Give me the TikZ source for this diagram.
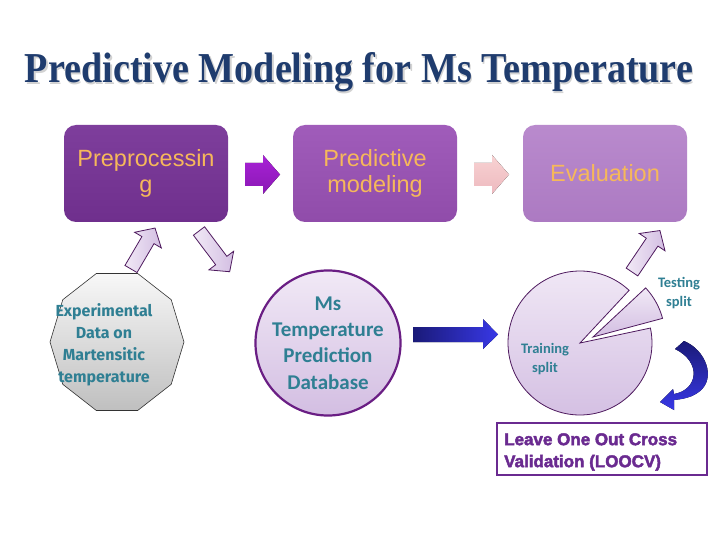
\documentclass[tikz,border=0pt]{standalone}
\usepackage{fontspec}
\usepackage{graphicx}
\setmainfont{Liberation Sans}
\newfontfamily\titlefont{Liberation Serif}
\newfontfamily\calfont{Carlito}
\newfontfamily\expfont{Fira Sans}
\newfontfamily\blackfont{Liberation Sans Bold}[FakeBold=2.5]
\usetikzlibrary{shapes.geometric}
\definecolor{titleblue}{HTML}{1F3C6E}
\definecolor{boxA}{HTML}{7E3E9C}
\definecolor{boxAd}{HTML}{6F2F8D}
\definecolor{boxB}{HTML}{A05CBA}
\definecolor{boxBd}{HTML}{904CAA}
\definecolor{boxC}{HTML}{B98ACD}
\definecolor{boxCd}{HTML}{AC7AC2}
\definecolor{orangetxt}{HTML}{F6B85A}
\definecolor{magA}{HTML}{A822D6}
\definecolor{magB}{HTML}{8A18B4}
\definecolor{pinkA}{HTML}{F8D2D2}
\definecolor{pinkB}{HTML}{EDB9BF}
\definecolor{lavL}{HTML}{F1E9F6}
\definecolor{lavD}{HTML}{D3BEE2}
\definecolor{purpline}{HTML}{4E1A5E}
\definecolor{dbborder}{HTML}{6A1E84}
\definecolor{tealtxt}{HTML}{2F7F93}
\definecolor{blueD}{HTML}{1A1A78}
\definecolor{blueB}{HTML}{3838E6}
\definecolor{loocv}{HTML}{6A2A90}
\newcommand\lavarrow[4]{%
  \begin{scope}[shift={(#1,#2)},rotate=#3]
    \draw[lavarr] (0,-7) -- (#4-14,-7) -- (#4-14,-15.5) -- (#4,0) -- (#4-14,15.5) -- (#4-14,7) -- (0,7) -- cycle;
  \end{scope}}
\tikzset{
  box/.style={rounded corners=12pt, minimum width=164pt, minimum height=97pt,
    text=orangetxt, font=\fontsize{23.5}{26}\selectfont, align=center, inner sep=0pt},
  lavarr/.style={draw=purpline, line width=0.8pt, left color=lavL, right color=lavD, line join=miter},
  tealtext/.style={text=tealtxt, align=center, inner sep=0pt},
  pie/.style={draw=purpline, line width=0.8pt, top color=lavL, bottom color=lavD}
}
\begin{document}
\begin{tikzpicture}[x=1pt,y=-1pt]
\useasboundingbox (0,0) rectangle (720,540);
\fill[white] (0,0) rectangle (720,540);

% title (with soft shadow)
\node[text=gray!35, anchor=base, inner sep=0pt] at (360.5,84.5)
  {\resizebox{668pt}{30pt}{\titlefont\bfseries Predictive Modeling for Ms Temperature}};
\node[text=titleblue, anchor=base, inner sep=0pt] (title) at (359,83)
  {\resizebox{668pt}{30pt}{\titlefont\bfseries Predictive Modeling for Ms Temperature}};

% top boxes
\node[box, top color=boxA, bottom color=boxAd] (pre) at (146,173.5) {Preprocessin\\g};
\node[box, top color=boxB, bottom color=boxBd] (pred) at (375,173.5) {Predictive\\modeling};
\node[box, top color=boxC, bottom color=boxCd] (eval) at (605,173.5) {Evaluation};

% arrows between boxes
\fill[top color=magA, bottom color=magB] (245,163) -- (263,163) -- (263,155) -- (280,174.5)
  -- (263,194) -- (263,186) -- (245,186) -- cycle;
\fill[top color=pinkA, bottom color=pinkB] (474,163) -- (492,163) -- (492,155) -- (509,174.5)
  -- (492,194) -- (492,186) -- (474,186) -- cycle;

% lavender block arrows
\lavarrow{131}{269}{59.6}{47.5}
\lavarrow{199}{231}{-53}{51}
\lavarrow{632}{272}{56}{50}

% decagon
\draw[draw=black!80, line width=0.6pt, top color=gray!6, bottom color=gray!50]
  (184,342) \foreach \k in {1,...,9} { -- ({117+67*cos(36*\k)},{342-72*sin(36*\k)}) } -- cycle;
\node[tealtext, font=\expfont\bfseries\fontsize{16}{22}\selectfont] (exp) at (104,345)
  {Experimental\\Data on\\Martensitic\\temperature};

% database circle
\node[circle, minimum size=133pt, draw=dbborder, line width=2.2pt, top color=lavL, bottom color=lavD,
  tealtext, font=\calfont\bfseries\fontsize{21}{26.3}\selectfont] (db) at (328,343)
  {Ms\\Temperature\\Prediction\\Database};

% straight blue arrow
\fill[left color=blueD, right color=blueB] (413,327) -- (483,327) -- (483,319) -- (498,334.5)
  -- (483,349) -- (483,342) -- (413,342) -- cycle;

% pie
\draw[pie] (580,343) -- ++(-47:72) arc[start angle=-47, end angle=-372, radius=72] -- cycle;
\draw[pie] (593,337) -- ++(-15:72) arc[start angle=-15, end angle=-43, radius=72] -- cycle;
\node[tealtext, font=\calfont\bfseries\fontsize{14.5}{18.5}\selectfont] (train) at (545,359) {Training\\split};
\node[tealtext, font=\calfont\bfseries\fontsize{14.5}{19}\selectfont] (test) at (679,293) {Testing\\split};

% curved blue arrow
\fill[top color=blueD, bottom color=blueB]
  (675,349) -- (684,341)
  .. controls (706,350) and (716,378) .. (700,391)
  .. controls (693,397) and (684,399) .. (674,400)
  -- (674,410) -- (660,402) -- (673,389) -- (674,394)
  .. controls (698,390) and (702,362) .. (675,349) -- cycle;

% LOOCV box
\node[draw=loocv, line width=2pt, minimum width=210pt, minimum height=52pt, inner sep=0pt] (loocvbox) at (602,449) {};
\node[anchor=west, align=left, text=loocv, inner sep=0pt,
  font=\blackfont\fontsize{17}{22}\selectfont] (loocv) at (504,452)
  {Leave One Out Cross\\Validation (LOOCV)};
\end{tikzpicture}
\end{document}
